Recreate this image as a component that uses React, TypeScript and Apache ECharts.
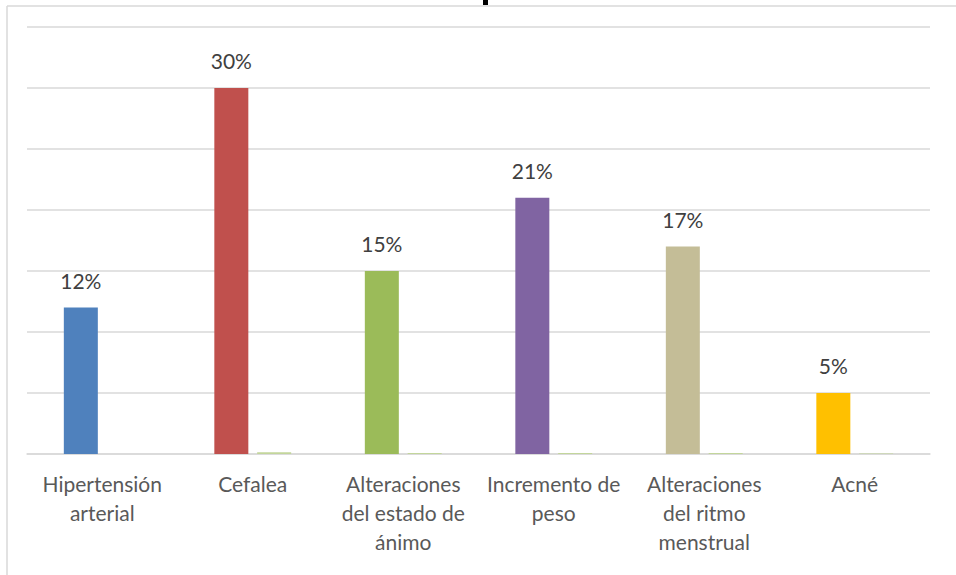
import React, { useEffect, useRef } from "react";
import * as echarts from "echarts";

const categories = [
  "Hipertensión\narterial",
  "Cefalea",
  "Alteraciones\ndel estado de\nánimo",
  "Incremento de\npeso",
  "Alteraciones\ndel ritmo\nmenstrual",
  "Acné",
];
const percentValues = [12, 30, 15, 21, 17, 5];
const secondaryValues = [0, 0.15, 0.08, 0.08, 0.08, 0.04];
const barColors = ["#4f81bd", "#c0504d", "#9bbb59", "#8064a2", "#c4bd97", "#ffc000"];
const yMin = 0;
const yMax = 35;
const yInterval = 5;

export default function App() {
  const ref = useRef<HTMLDivElement>(null);
  useEffect(() => {
    if (!ref.current) return;
    const chart = echarts.init(ref.current, null, { renderer: "svg" });
    const font = "Lato, 'Noto Sans', sans-serif";
    chart.setOption({
      animation: false,
      backgroundColor: "#ffffff",
      grid: { left: 27, right: 26, top: 27, bottom: 121, containLabel: false },
      xAxis: {
        type: "category",
        data: categories,
        axisLine: { lineStyle: { color: "#d9d9d9", width: 1.5 } },
        axisTick: { show: false },
        axisLabel: {
          color: "#595959",
          fontFamily: font,
          fontSize: 21,
          lineHeight: 29,
          margin: 15,
          interval: 0,
        },
      },
      yAxis: {
        type: "value",
        min: yMin,
        max: yMax,
        interval: yInterval,
        axisLabel: { show: false },
        axisLine: { show: false },
        axisTick: { show: false },
        splitLine: { lineStyle: { color: "#d9d9d9", width: 1.5 } },
      },
      series: [
        {
          type: "bar",
          data: percentValues.map((v, i) => ({ value: v, itemStyle: { color: barColors[i] } })),
          barWidth: 34,
          barGap: "26%",
          label: {
            show: true,
            position: "top",
            distance: 17,
            formatter: "{c}%",
            color: "#404040",
            fontFamily: font,
            fontSize: 21,
          },
        },
        {
          type: "bar",
          data: secondaryValues,
          barWidth: 34,
          itemStyle: { color: "#c3d69b" },
        },
      ],
      graphic: [
        {
          type: "line",
          shape: { x1: 7, y1: 6, x2: 956, y2: 6 },
          style: { stroke: "#d9d9d9", lineWidth: 1.5 },
        },
        {
          type: "line",
          shape: { x1: 7, y1: 6, x2: 7, y2: 575 },
          style: { stroke: "#d9d9d9", lineWidth: 1.5 },
        },
        {
          type: "rect",
          shape: { x: 483, y: 0, width: 5, height: 5 },
          style: { fill: "#000000" },
        },
      ],
    });
    return () => chart.dispose();
  }, []);
  return (
    <div
      ref={ref}
      style={{ position: "fixed", left: 0, top: 0, width: 956, height: 575 }}
    />
  );
}
